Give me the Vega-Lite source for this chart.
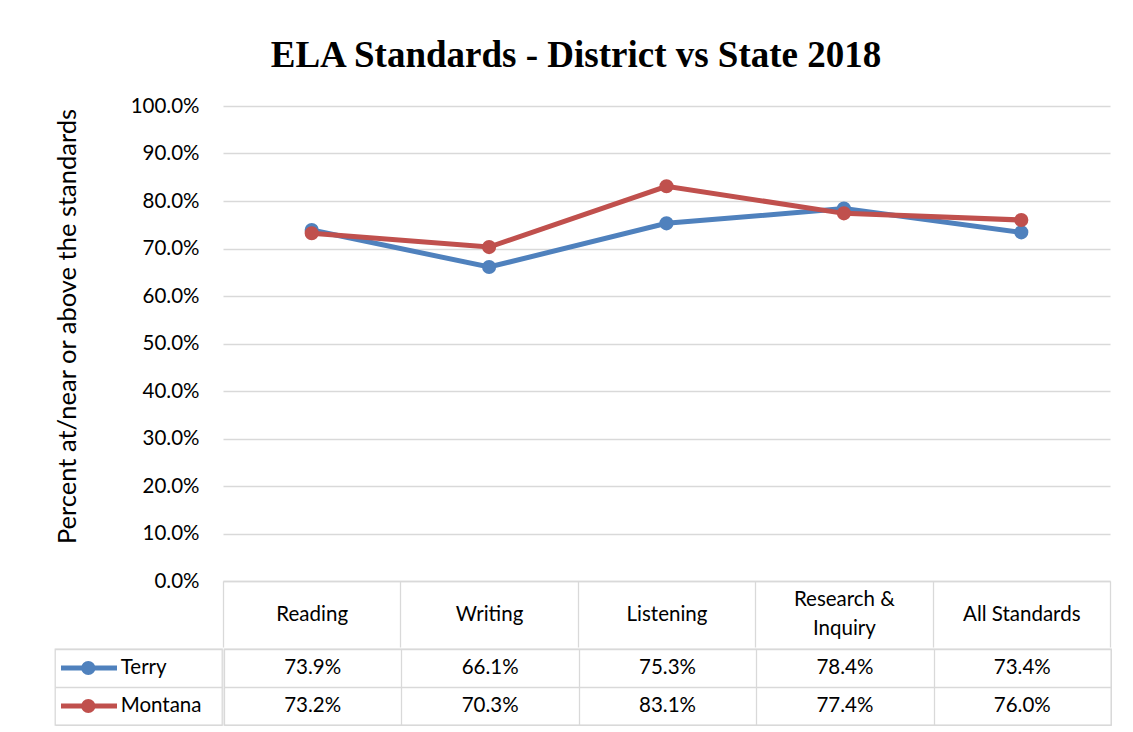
{
  "$schema": "https://vega.github.io/schema/vega-lite/v6.json",
  "padding": {"left": 54, "top": 37, "right": 0, "bottom": 0},
  "background": "white",
  "title": {
    "text": "ELA Standards - District vs State 2018",
    "font": "Liberation Serif",
    "fontSize": 37,
    "fontWeight": "bold",
    "color": "#000000",
    "anchor": "middle",
    "offset": 21,
    "dx": -7
  },
  "datasets": {
    "scores": [
      {"standard": "Reading", "series": "Terry", "value": 0.739},
      {"standard": "Writing", "series": "Terry", "value": 0.661},
      {"standard": "Listening", "series": "Terry", "value": 0.753},
      {"standard": "Research & Inquiry", "series": "Terry", "value": 0.784},
      {"standard": "All Standards", "series": "Terry", "value": 0.734},
      {"standard": "Reading", "series": "Montana", "value": 0.732},
      {"standard": "Writing", "series": "Montana", "value": 0.703},
      {"standard": "Listening", "series": "Montana", "value": 0.831},
      {"standard": "Research & Inquiry", "series": "Montana", "value": 0.774},
      {"standard": "All Standards", "series": "Montana", "value": 0.76}
    ],
    "series": [{"series": "Terry"}, {"series": "Montana"}]
  },
  "spacing": 0,
  "resolve": {"scale": {"x": "independent", "y": "independent"}},
  "config": {
    "font": "Lato",
    "view": {"stroke": null},
    "axis": {"labelFont": "Lato", "titleFont": "Lato", "minExtent": 0}
  },
  "vconcat": [
    {
      "spacing": 0,
      "resolve": {"scale": {"x": "independent", "y": "independent"}},
      "hconcat": [
        {
          "width": 167,
          "height": 475,
          "data": {"name": "scores"},
          "mark": {"type": "point", "opacity": 0},
          "encoding": {
            "y": {
              "field": "value",
              "type": "quantitative",
              "scale": {"domain": [0, 1], "nice": false},
              "axis": {
                "offset": -167,
                "values": [0, 0.1, 0.2, 0.3, 0.4, 0.5, 0.6, 0.7, 0.8, 0.9, 1],
                "format": ".1%",
                "title": "Percent at/near or above the standards",
                "titleFontSize": 25.5,
                "titleFontWeight": "normal",
                "titleColor": "#000000",
                "titleX": -141.5,
                "titleY": 220,
                "titleAngle": 270,
                "titleBaseline": "bottom",
                "titleAlign": "center",
                "labelFontSize": 20.5,
                "labelColor": "#000000",
                "labelPadding": 23,
                "ticks": false,
                "domain": false,
                "grid": false
              }
            }
          }
        },
        {
          "width": 887,
          "height": 475,
          "data": {"name": "scores"},
          "encoding": {
            "x": {
              "field": "standard",
              "type": "nominal",
              "sort": ["Reading", "Writing", "Listening", "Research & Inquiry", "All Standards"],
              "scale": {"type": "band", "paddingInner": 0, "paddingOuter": 0},
              "bandPosition": 0.5,
              "axis": {
                "orient": "bottom",
                "title": null,
                "grid": false,
                "tickBand": "extent",
                "tickSize": 66,
                "tickColor": "#d9d9d9",
                "tickWidth": 1.3,
                "domainColor": "#d9d9d9",
                "domainWidth": 1.3,
                "labelPadding": {"condition": {"test": "datum.value === 'Research & Inquiry'", "value": -47.5}, "value": -33},
                "labelBaseline": "middle",
                "labelFontSize": 20.5,
                "labelColor": "#000000",
                "labelLineHeight": 29,
                "labelAngle": 0,
                "labelOverlap": false,
                "labelBound": false,
                "labelFlush": false,
                "labelExpr": "datum.label == 'Research & Inquiry' ? ['Research &', 'Inquiry'] : datum.label"
              }
            },
            "y": {
              "field": "value",
              "type": "quantitative",
              "scale": {"domain": [0, 1], "nice": false},
              "axis": {
                "values": [0, 0.1, 0.2, 0.3, 0.4, 0.5, 0.6, 0.7, 0.8, 0.9, 1],
                "title": null,
                "labels": false,
                "ticks": false,
                "domain": false,
                "grid": true,
                "gridColor": "#d9d9d9",
                "gridWidth": 1.3,
                "minExtent": 0
              }
            }
          },
          "layer": [
            {
              "transform": [{"filter": "datum.series === 'Terry'"}],
              "mark": {"type": "line", "color": "#4f81bd", "strokeWidth": 5, "point": {"filled": true, "size": 200, "color": "#4f81bd", "opacity": 1}}
            },
            {
              "transform": [{"filter": "datum.series === 'Montana'"}],
              "mark": {"type": "line", "color": "#c0504d", "strokeWidth": 5, "point": {"filled": true, "size": 200, "color": "#c0504d", "opacity": 1}}
            }
          ]
        }
      ]
    },
    {
      "spacing": 0,
      "resolve": {"scale": {"x": "independent", "y": "independent"}},
      "hconcat": [
        {
          "width": 167,
          "height": 76,
          "data": {"name": "series"},
          "view": {"stroke": "#d9d9d9", "strokeWidth": 1.3},
          "encoding": {
            "y": {
              "field": "series",
              "type": "nominal",
              "sort": ["Terry", "Montana"],
              "scale": {"type": "band", "paddingInner": 0, "paddingOuter": 0},
              "bandPosition": 0.5,
              "axis": {"title": null, "labels": false, "ticks": false, "domain": false, "grid": true, "tickBand": "extent", "gridColor": "#d9d9d9", "gridWidth": 1.3, "minExtent": 0}
            }
          },
          "layer": [
            {
              "mark": {"type": "rule", "strokeWidth": 5},
              "encoding": {
                "x": {"datum": 6, "type": "quantitative", "scale": {"domain": [0, 167], "nice": false, "zero": false}, "axis": null},
                "x2": {"datum": 62},
                "color": {"field": "series", "type": "nominal", "scale": {"domain": ["Terry", "Montana"], "range": ["#4f81bd", "#c0504d"]}, "legend": null}
              }
            },
            {
              "mark": {"type": "point", "filled": true, "size": 200, "opacity": 1},
              "encoding": {
                "x": {"datum": 33.3, "type": "quantitative", "scale": {"domain": [0, 167], "nice": false, "zero": false}, "axis": null},
                "color": {"field": "series", "type": "nominal", "scale": {"domain": ["Terry", "Montana"], "range": ["#4f81bd", "#c0504d"]}, "legend": null}
              }
            },
            {
              "mark": {"type": "text", "align": "left", "baseline": "middle", "fontSize": 20.5, "color": "#000000"},
              "encoding": {
                "x": {"datum": 65.7, "type": "quantitative", "scale": {"domain": [0, 167], "nice": false, "zero": false}, "axis": null},
                "text": {"field": "series"}
              }
            }
          ]
        },
        {
          "width": 887,
          "height": 76,
          "data": {"name": "scores"},
          "view": {"stroke": "#d9d9d9", "strokeWidth": 1.3},
          "mark": {"type": "text", "fontSize": 20.5, "color": "#000000", "baseline": "middle", "align": "center"},
          "encoding": {
            "x": {
              "field": "standard",
              "type": "nominal",
              "sort": ["Reading", "Writing", "Listening", "Research & Inquiry", "All Standards"],
              "scale": {"type": "band", "paddingInner": 0, "paddingOuter": 0},
              "bandPosition": 0.5,
              "axis": {"title": null, "labels": false, "ticks": false, "domain": false, "grid": true, "tickBand": "extent", "gridColor": "#d9d9d9", "gridWidth": 1.3, "minExtent": 0}
            },
            "y": {
              "field": "series",
              "type": "nominal",
              "sort": ["Terry", "Montana"],
              "scale": {"type": "band", "paddingInner": 0, "paddingOuter": 0},
              "bandPosition": 0.5,
              "axis": {"title": null, "labels": false, "ticks": false, "domain": false, "grid": true, "tickBand": "extent", "gridColor": "#d9d9d9", "gridWidth": 1.3, "minExtent": 0}
            },
            "text": {"field": "value", "type": "quantitative", "format": ".1%"}
          }
        }
      ]
    }
  ]
}
